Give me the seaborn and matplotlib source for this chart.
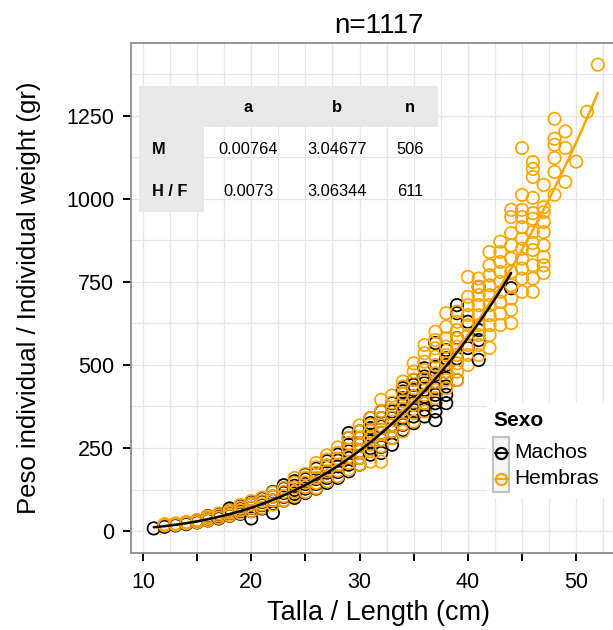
import numpy as np
import pandas as pd
import matplotlib
matplotlib.use("Agg")
import matplotlib.pyplot as plt
from matplotlib.lines import Line2D
from matplotlib.patches import Rectangle
import seaborn as sns

# ---------------- data ----------------
machos_talla = [
    11,
    12, 12,
    13, 13,
    14, 14,
    15, 15,
    16, 16, 16,
    17, 17, 17,
    18, 18, 18, 18,
    19, 19, 19, 19,
    20, 20, 20, 20, 20,
    21, 21, 21, 21,
    22, 22, 22, 22, 22,
    23, 23, 23, 23, 23,
    24, 24, 24, 24, 24,
    25, 25, 25, 25, 25,
    26, 26, 26, 26, 26,
    27, 27, 27, 27, 27,
    28, 28, 28, 28, 28,
    29, 29, 29, 29, 29, 29, 29,
    30, 30, 30, 30, 30, 30,
    31, 31, 31, 31, 31, 31, 31,
    32, 32, 32, 32, 32, 32, 32,
    33, 33, 33, 33, 33, 33, 33,
    34, 34, 34, 34, 34, 34, 34, 34,
    35, 35, 35, 35, 35, 35, 35, 35,
    36, 36, 36, 36, 36, 36, 36, 36,
    37, 37, 37, 37, 37, 37, 37, 37, 37,
    38, 38, 38, 38, 38, 38, 38, 38,
    39, 39, 39, 39, 39,
    40, 40,
    41, 41, 41, 41,
    44,
]
machos_peso = [
    8,
    13, 16,
    17, 21,
    21, 26,
    26, 32,
    32, 38, 45,
    38, 45, 50,
    46, 54, 62, 68,
    52, 60, 68, 76,
    38, 60, 70, 80, 88,
    68, 78, 88, 98,
    55, 82, 92, 104, 118,
    92, 103, 115, 128, 138,
    100, 112, 124, 136, 150,
    115, 128, 142, 156, 170,
    128, 142, 157, 172, 188,
    145, 160, 176, 192, 210,
    160, 178, 195, 212, 230,
    180, 200, 220, 240, 260, 280, 295,
    200, 220, 240, 260, 280, 300,
    230, 250, 270, 290, 310, 325, 340,
    235, 253, 275, 295, 315, 340, 360,
    260, 280, 300, 320, 340, 360, 385,
    304, 320, 340, 360, 380, 400, 420, 430,
    325, 345, 365, 385, 405, 425, 440, 455,
    345, 365, 385, 405, 425, 445, 465, 490,
    334, 360, 385, 410, 430, 450, 470, 494, 566,
    385, 410, 435, 460, 480, 500, 520, 545,
    455, 520, 581, 656, 680,
    551, 630,
    515, 575, 605, 735,
    731,
]

hembras_talla = [
    12, 12,
    13, 13,
    14, 14,
    15, 15,
    16, 16, 16,
    17, 17, 17,
    18, 18, 18,
    19, 19, 19, 19,
    20, 20, 20, 20,
    21, 21, 21, 21,
    22, 22, 22, 22,
    23, 23, 23, 23,
    24, 24, 24, 24, 24,
    25, 25, 25, 25, 25,
    26, 26, 26, 26, 26, 26,
    27, 27, 27, 27, 27, 27,
    28, 28, 28, 28, 28, 28,
    29, 29, 29, 29, 29, 29,
    30, 30, 30, 30, 30, 30, 30,
    31, 31, 31, 31, 31, 31, 31,
    32, 32, 32, 32, 32, 32, 32, 32,
    33, 33, 33, 33, 33, 33, 33,
    34, 34, 34, 34, 34, 34, 34, 34,
    35, 35, 35, 35, 35, 35, 35, 35,
    36, 36, 36, 36, 36, 36, 36, 36, 36,
    37, 37, 37, 37, 37, 37, 37, 37, 37,
    38, 38, 38, 38, 38, 38, 38, 38, 38,
    39, 39, 39, 39, 39, 39, 39, 39, 39,
    40, 40, 40, 40, 40, 40, 40, 40, 40,
    41, 41, 41, 41, 41, 41, 41, 41, 41,
    42, 42, 42, 42, 42, 42, 42, 42, 42, 42,
    43, 43, 43, 43, 43, 43, 43, 43, 43,
    44, 44, 44, 44, 44, 44, 44, 44, 44, 44,
    45, 45, 45, 45, 45, 45, 45, 45, 45, 45, 45,
    46, 46, 46, 46, 46, 46, 46, 46, 46, 46, 46, 46,
    47, 47, 47, 47, 47, 47, 47, 47, 47,
    48, 48, 48, 48, 48, 48,
    49, 49, 49,
    50,
    51,
    52,
]
hembras_peso = [
    17, 21,
    19, 23,
    23, 27,
    27, 33,
    33, 39, 44,
    40, 47, 53,
    47, 55, 62,
    54, 62, 70, 78,
    60, 70, 80, 90,
    70, 80, 90, 100,
    80, 92, 104, 116,
    92, 105, 118, 130,
    105, 118, 131, 145, 160,
    118, 132, 146, 160, 172,
    130, 145, 160, 175, 192, 205,
    150, 165, 180, 198, 215, 228,
    165, 182, 200, 218, 236, 252,
    185, 205, 225, 245, 265, 280,
    200, 220, 240, 260, 280, 300, 318,
    209, 240, 260, 280, 300, 320, 340,
    209, 255, 275, 295, 318, 340, 362, 395,
    280, 300, 320, 342, 365, 387, 408,
    300, 322, 345, 368, 390, 412, 435, 450,
    330, 355, 380, 405, 430, 455, 480, 505,
    360, 385, 410, 435, 460, 485, 510, 535, 560,
    400, 425, 450, 475, 500, 525, 550, 575, 600,
    430, 455, 480, 505, 530, 555, 580, 615, 656,
    455, 480, 505, 530, 555, 580, 605, 630, 660,
    500, 530, 560, 590, 620, 650, 680, 705, 765,
    530, 560, 590, 620, 650, 680, 710, 735, 760,
    551, 590, 620, 650, 680, 710, 740, 770, 800, 840,
    620, 655, 690, 720, 750, 780, 810, 840, 871,
    626, 666, 700, 740, 780, 820, 860, 897, 945, 967,
    720, 760, 790, 820, 850, 880, 915, 945, 967, 1012, 1153,
    720, 760, 800, 846, 867, 900, 940, 957, 1003, 1066, 1090, 1111,
    777, 800, 825, 860, 900, 930, 960, 975, 1042,
    1012, 1081, 1123, 1163, 1181, 1241,
    1051, 1153, 1203,
    1112,
    1262,
    1404,
]

sexo_labels = ["Machos", "Hembras"]
colores = ["#000000", "#FFA500"]
tabla_filas = ["M", "H / F"]
tabla_cols = ["a", "b", "n"]
param_a = [0.00764, 0.0073]
param_b = [3.04677, 3.06344]
param_n = [506, 611]
titulo = "n=1117"
x_ticks = [10, 15, 20, 25, 30, 35, 40, 45, 50]
x_ticklabels = ["10", "", "20", "", "30", "", "40", "", "50"]
y_ticks = [0, 250, 500, 750, 1000, 1250]

# ---------------- styling ----------------
sns.set_theme(style="white")
plt.rcParams["font.family"] = ["Liberation Sans", "DejaVu Sans"]
plt.rcParams["text.color"] = "black"
plt.rcParams["axes.labelcolor"] = "black"

W, H = 613, 630
fig = plt.figure(figsize=(W / 100, H / 100), dpi=100)
fig.patch.set_facecolor("white")


def fx(px):
    return px / W


def fy(py):
    return 1 - py / H


ax_l, ax_r, ax_t, ax_b = 131, 626, 42.7, 553
ax = fig.add_axes([fx(ax_l), fy(ax_b), (ax_r - ax_l) / W, (ax_b - ax_t) / H])
ax.set_facecolor("white")

df = pd.concat([
    pd.DataFrame({"talla": machos_talla, "peso": machos_peso, "sexo": sexo_labels[0]}),
    pd.DataFrame({"talla": hembras_talla, "peso": hembras_peso, "sexo": sexo_labels[1]}),
], ignore_index=True)
df = df.sort_values("talla", kind="stable").reset_index(drop=True)

sns.scatterplot(data=df, x="talla", y="peso", hue="sexo", hue_order=sexo_labels,
                palette=colores, s=80, linewidth=1.25, legend=False, ax=ax, zorder=3)
coll = ax.collections[0]
fc = np.array(coll.get_facecolors())
coll.set_edgecolors(fc)
coll.set_facecolors("none")

# fitted curves W = a * L^b from the table parameters (females first, males on top)
for k, tl in [(1, hembras_talla), (0, machos_talla)]:
    lg = np.linspace(min(tl), max(tl), 200)
    sns.lineplot(x=lg, y=param_a[k] * lg ** param_b[k], color=colores[k],
                 linewidth=1.8, ax=ax, zorder=4)

ax.set_xticks(x_ticks)
ax.set_xticklabels(x_ticklabels)
ax.set_yticks(y_ticks)
ax.set_xticks(np.arange(7.5, 56, 2.5), minor=True)
ax.set_yticks(np.arange(-125, 1500, 125), minor=True)
ax.set_xlim(8.9, 54.6)
ax.set_ylim(-66, 1470)
ax.grid(True, which="both", color="#E6E6E6", linewidth=0.9, zorder=0)
ax.set_axisbelow(True)
ax.tick_params(axis="both", which="major", direction="out", length=6, width=1.4,
               color="black", labelsize=15.5, labelcolor="black",
               bottom=True, left=True)
ax.tick_params(axis="x", which="major", pad=8)
ax.tick_params(axis="y", which="major", pad=6)
ax.tick_params(axis="both", which="minor", length=0)
for s in ax.spines.values():
    s.set_color("#8C8C8C")
    s.set_linewidth(1.3)
ax.spines["right"].set_visible(False)

ax.set_xlabel("Talla / Length (cm)", fontsize=19.5, labelpad=5, color="black")
ax.set_ylabel("Peso individual / Individual weight (gr)", fontsize=18.5,
              labelpad=18, color="black")
ax.set_title(titulo, fontsize=20, pad=7, color="black")

# ---------------- inset table ----------------
grey = "#E8E8E8"
ax.add_patch(Rectangle((fx(139), fy(126.7)), fx(438) - fx(139), fy(86) - fy(126.7),
                       transform=fig.transFigure, facecolor=grey, edgecolor="none",
                       zorder=6, clip_on=False))
ax.add_patch(Rectangle((fx(139), fy(211.7)), fx(204) - fx(139), fy(126.7) - fy(211.7),
                       transform=fig.transFigure, facecolor=grey, edgecolor="none",
                       zorder=6, clip_on=False))
col_x = [248, 337, 410]
for cx, c in zip(col_x, tabla_cols):
    fig.text(fx(cx), fy(107), c, ha="center", va="center", fontsize=11.8,
             fontweight="bold", zorder=7)
row_y = [149, 192]
vals = [[f"{param_a[i]}", f"{param_b[i]:.5f}", f"{param_n[i]}"] for i in range(2)]
for ry, lab, rv in zip(row_y, tabla_filas, vals):
    fig.text(fx(152), fy(ry), lab, ha="left", va="center", fontsize=11.8,
             fontweight="bold", zorder=7)
    for cx, v in zip(col_x, rv):
        fig.text(fx(cx), fy(ry), v, ha="center", va="center", fontsize=11.8, zorder=7)

# ---------------- legend (drawn inside the panel) ----------------
ax.add_patch(Rectangle((fx(487), fy(498)), fx(640) - fx(487), fy(403) - fy(498),
                       transform=fig.transFigure, facecolor="white", edgecolor="none",
                       zorder=8, clip_on=False))
ax.add_patch(Rectangle((fx(493), fy(492)), fx(509) - fx(493), fy(437) - fy(492),
                       transform=fig.transFigure, facecolor="#F5F5F5",
                       edgecolor="#C2C2C2", linewidth=1.6, zorder=9, clip_on=False))
fig.text(fx(493), fy(420), "Sexo", ha="left", va="center", fontsize=15,
         fontweight="bold", zorder=10)
for c, lab, ly in zip(colores, sexo_labels, [452.5, 478.5]):
    ax.add_line(Line2D([fx(494.5), fx(507.5)], [fy(ly), fy(ly)], color=c, linewidth=1.5,
                       transform=fig.transFigure, zorder=10, clip_on=False))
    ax.add_line(Line2D([fx(501)], [fy(ly)], color=c, marker="o", markerfacecolor="none",
                       markeredgewidth=1.6, markersize=8, linestyle="none",
                       transform=fig.transFigure, zorder=10, clip_on=False))
    fig.text(fx(514), fy(ly), lab, ha="left", va="center", fontsize=15, zorder=10)

fig.savefig("out.png", dpi=100, facecolor="white")
